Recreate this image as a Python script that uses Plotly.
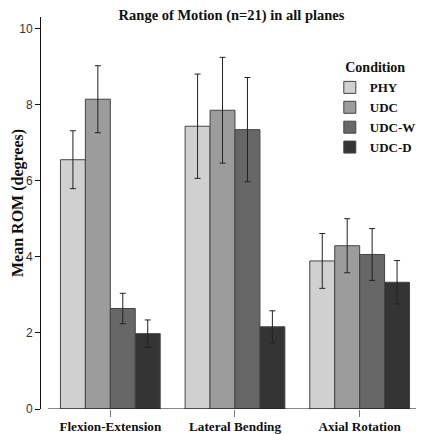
import plotly.graph_objects as go

categories = ["Flexion-Extension", "Lateral Bending", "Axial Rotation"]
conditions = ["PHY", "UDC", "UDC-W", "UDC-D"]
colors = ["#d0d0d0", "#9c9c9c", "#676767", "#343434"]

mean_phy = [6.55, 7.43, 3.89]
mean_udc = [8.14, 7.85, 4.29]
mean_udcw = [2.64, 7.34, 4.06]
mean_udcd = [1.98, 2.16, 3.33]

err_phy = [0.76, 1.37, 0.72]
err_udc = [0.88, 1.39, 0.71]
err_udcw = [0.40, 1.37, 0.68]
err_udcd = [0.36, 0.42, 0.57]

means = [mean_phy, mean_udc, mean_udcw, mean_udcd]
errs = [err_phy, err_udc, err_udcw, err_udcd]

y_ticks = [0, 2, 4, 6, 8, 10]

serif = "Liberation Serif, Times New Roman, serif"
sans = "Liberation Sans, Arial, sans-serif"

fig = go.Figure()
for name, col, m, e in zip(conditions, colors, means, errs):
    fig.add_trace(go.Bar(
        x=list(range(len(categories))), y=m, name=name,
        marker=dict(color=col, line=dict(color="#444444", width=1)),
        error_y=dict(type="data", array=e, visible=True, color="#222222",
                     thickness=1, width=3),
    ))

fig.add_shape(type="line", xref="x", yref="y", x0=-0.5, x1=2.5, y0=0, y1=0,
              line=dict(color="#111111", width=1))

fig.add_annotation(text="Mean ROM (degrees)", textangle=-90, xref="paper", yref="paper",
                   x=-0.0604, y=0.5255, xanchor="center", yanchor="middle", showarrow=False,
                   font=dict(family=serif, size=16, color="#111111", weight="bold"))

# page body has an 8px margin, so the figure is 8px smaller than the window
fig.update_layout(
    width=416, height=426,
    margin=dict(l=33, r=2, t=9, b=25, autoexpand=False),
    paper_bgcolor="white", plot_bgcolor="white",
    barmode="group", bargap=0.2, bargroupgap=0,
    title=dict(text="Range of Motion (n=21) in all planes", x=0.5, xref="paper",
               y=0.9836, yref="container", yanchor="middle", automargin=False,
               font=dict(family=serif, size=14.5, color="#111111", weight="bold")),
    xaxis=dict(range=[-0.556, 2.5], tickmode="array",
               tickvals=list(range(len(categories))), ticktext=categories,
               showline=False, showgrid=False, zeroline=False, automargin=False,
               ticks="outside", ticklen=7, tickcolor="#777777", tickwidth=1,
               ticklabelstandoff=-2,
               tickfont=dict(family=serif, size=13.2, color="#111111", weight="bold")),
    yaxis=dict(range=[0, 10.3], tickvals=y_ticks, showline=True, linecolor="#111111",
               linewidth=1, showgrid=False, zeroline=False, automargin=False,
               ticks="outside", ticklen=5, tickcolor="#111111",
               tickfont=dict(family=sans, size=12, color="#333333")),
    legend=dict(x=0.758, y=0.905, xanchor="left", yanchor="top",
                title=dict(text="Condition", side="top center",
                           font=dict(family=serif, size=14, color="#111111", weight="bold")),
                font=dict(family=serif, size=13, color="#111111", weight="bold"),
                tracegroupgap=0, bgcolor="rgba(0,0,0,0)"),
    showlegend=True,
)

fig.write_html("out.html")
